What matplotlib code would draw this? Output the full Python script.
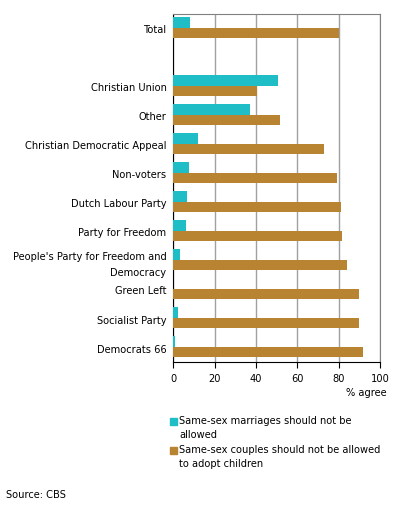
import matplotlib.pyplot as plt
import numpy as np
from matplotlib.patches import Rectangle

# data (% agree)
categories = ["Total", "", "Christian Union", "Other", "Christian Democratic Appeal",
              "Non-voters", "Dutch Labour Party", "Party for Freedom",
              "People's Party for Freedom and\nDemocracy", "Green Left",
              "Socialist Party", "Democrats 66"]
marriage = [8, np.nan, 50.5, 37, 12, 7.5, 6.6, 6.1, 3.2, 0, 2.1, 0.6]
adoption = [80, np.nan, 40.3, 51.6, 73, 79, 81, 81.5, 84, 89.8, 89.8, 91.7]
xticks = [0, 20, 40, 60, 80, 100]

cyan = "#1fbdc6"
brown = "#b98431"

plt.rcParams["font.family"] = "DejaVu Sans"
plt.rcParams["font.size"] = 7.1

fig = plt.figure(figsize=(3.96, 5.06), dpi=100)
ax = fig.add_axes([0.438, 0.2826, 0.522, 0.6878])

y = np.arange(len(categories))
h = 0.36
ax.barh(y - h / 2 - 0.02, marriage, height=h, color=cyan, zorder=3)
ax.barh(y + h / 2 - 0.02, adoption, height=h, color=brown, zorder=3)

ax.set_ylim(len(categories) - 0.5, -0.5)
ax.set_xlim(0, 100)
ax.set_yticks(y)
ax.set_yticklabels(categories, ha="right", linespacing=1.7)
ax.tick_params(axis="y", length=0, pad=5)
ax.set_xticks(xticks)
ax.tick_params(axis="x", length=4, direction="out", pad=4, colors="black")
ax.xaxis.grid(True, color="#a0a0a0", linewidth=1, zorder=0)

for s in ["top", "right"]:
    ax.spines[s].set_color("#808080")
ax.spines["left"].set_color("black")
ax.spines["bottom"].set_color("black")

fig.text(387 / 396, 1 - 393 / 506, "% agree", ha="right", va="center")

# legend
leg = [(cyan, "Same-sex marriages should not be\nallowed", 422),
       (brown, "Same-sex couples should not be allowed\nto adopt children", 451)]
for col, txt, ypix in leg:
    fig.patches.append(Rectangle((170 / 396, 1 - (ypix + 4) / 506), 7 / 396, 7 / 506,
                                 transform=fig.transFigure, color=col))
    fig.text(179 / 396, 1 - (ypix - 6) / 506, txt, ha="left", va="top", linespacing=1.45)

fig.text(6 / 396, 1 - 495 / 506, "Source: CBS", ha="left", va="center")

fig.savefig("out.png", dpi=100)
